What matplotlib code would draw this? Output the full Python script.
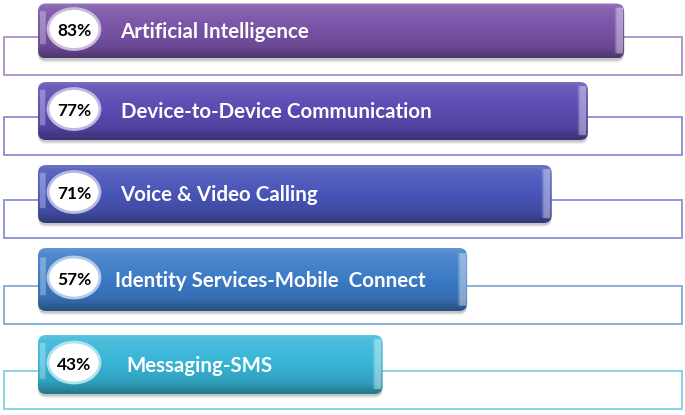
import numpy as np
import matplotlib
matplotlib.use("Agg")
import matplotlib.pyplot as plt
from matplotlib.patches import FancyBboxPatch, Ellipse, Rectangle
from matplotlib.colors import to_rgb

# data
labels = ["Artificial Intelligence", "Device-to-Device Communication",
          "Voice & Video Calling", "Identity Services-Mobile  Connect",
          "Messaging-SMS"]
values = [83, 77, 71, 57, 43]
pct_text = ["83%", "77%", "71%", "57%", "43%"]

# style / layout (pixel based)
colors = ["#7953A7", "#5B4BB3", "#4A56BA", "#3D7CC8", "#38B6D7"]
row_y = [31, 111, 194, 279.5, 364.5]
row_h = [55, 58, 58, 63, 59]
label_px = [120, 121, 120, 115, 126]
W, H = 685, 415
PX_PER_UNIT = 6.04
X0_PX = 122.8
BAR_START_PX = 38
FONT = ["Lato", "DejaVu Sans"]


def px(x):
    return (x - X0_PX) / PX_PER_UNIT


def mix(c, other, t):
    c = np.array(to_rgb(c))
    return tuple(c * (1 - t) + np.array(other) * t)


fig = plt.figure(figsize=(6.85, 4.15), dpi=100)
ax = fig.add_axes([0, 0, 1, 1])
ax.set_xlim(px(0), px(W))
ax.set_ylim(H, 0)
ax.axis("off")

r = 8 / PX_PER_UNIT
x0 = px(BAR_START_PX)

for i in range(len(values)):
    cy, h = row_y[i], row_h[i]
    base = np.array(to_rgb(colors[i]))
    top = cy - h / 2

    # outline box behind the bar
    ax.add_patch(Rectangle((px(4), cy + 6), px(682) - px(4), 38,
                           fc="white", ec=mix(colors[i], (1, 1, 1), 0.35),
                           lw=1.3, zorder=1))

    # soft shadow
    for k, a in [(4, 0.06), (3, 0.08), (2, 0.1)]:
        ax.add_patch(FancyBboxPatch((x0, top + k), values[i] - x0, h,
                                    boxstyle=f"round,pad=0,rounding_size={r}",
                                    mutation_aspect=PX_PER_UNIT,
                                    fc="black", ec="none", alpha=a, zorder=2))

    bar = FancyBboxPatch((x0, top), values[i] - x0, h,
                         boxstyle=f"round,pad=0,rounding_size={r}",
                         mutation_aspect=PX_PER_UNIT,
                         fc="none", ec="none", zorder=3)
    ax.add_patch(bar)

    # glossy gradient
    ny, nx = 120, 600
    t = np.linspace(0, 1, ny)[:, None]
    shade = np.interp(t, [0, 0.1, 0.45, 0.8, 1.0], [0.2, 0.1, 0.0, -0.12, -0.35])
    img = np.repeat(base[None, None, :], ny, 0).repeat(nx, 1)
    img = np.where(shade[..., None] > 0,
                   img + (1 - img) * shade[..., None],
                   img * (1 + shade[..., None]))
    xs = np.linspace(x0, values[i], nx)[None, :]
    cap = np.clip((xs - (values[i] - 1.7)) / 0.5, 0, 1) * (xs < values[i] - 0.2)
    cap = cap * (np.abs(t - 0.5) < 0.42)
    img = img + (1 - img) * (cap[..., None] * 0.4)
    lcap = ((xs > x0 + 0.25) & (xs < x0 + 1.2)).astype(float) * \
        (np.abs(t - 0.45) < 0.3)
    img = img + (1 - img) * (lcap[..., None] * 0.3)
    im = ax.imshow(np.clip(img, 0, 1), extent=(x0, values[i], top + h, top),
                   aspect="auto", interpolation="bilinear", zorder=3)
    im.set_clip_path(bar)

    # percentage badge
    ax.add_patch(Ellipse((px(74), cy - 2), 52 / PX_PER_UNIT, 41,
                         fc="white", ec=mix(colors[i], (1, 1, 1), 0.6),
                         lw=2, zorder=5))
    ax.text(px(74), cy, pct_text[i], ha="center", va="center",
            fontsize=12.5, fontweight="bold", color="black", family=FONT,
            zorder=6)
    ax.text(px(label_px[i]), cy + 1, labels[i], ha="left", va="center",
            fontsize=14.8, fontweight="bold", color="white", family=FONT,
            zorder=6)

ax.set_xlim(px(0), px(W))
ax.set_ylim(H, 0)
fig.savefig("out.png", dpi=100)
